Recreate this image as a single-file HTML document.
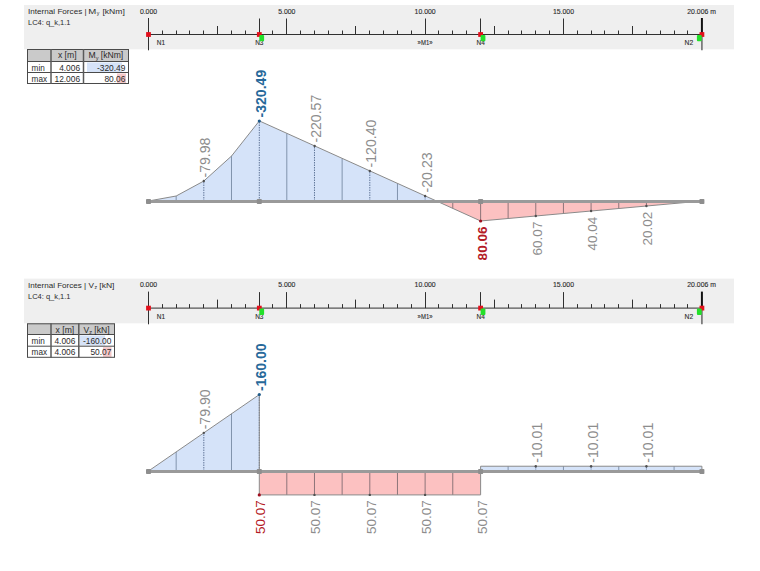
<!DOCTYPE html>
<html><head><meta charset="utf-8"><style>
html,body{margin:0;padding:0;background:#fff;width:760px;height:571px;overflow:hidden;}
svg{display:block;}
</style></head><body>
<svg width="760" height="571" viewBox="0 0 760 571" font-family='"Liberation Sans", sans-serif'>
<rect width="760" height="571" fill="#fff"/>
<rect x="24" y="5" width="710" height="44.3" fill="#efefef"/>
<text x="28.00" y="14.00" font-size="7.4" fill="#2b2b2b" textLength="58.599999999999994" lengthAdjust="spacingAndGlyphs">Internal Forces |</text>
<text x="88.20" y="14.00" font-size="7.4" fill="#2b2b2b" textLength="8.0" lengthAdjust="spacingAndGlyphs">M</text>
<text x="96.70" y="15.30" font-size="5.2" fill="#2b2b2b">y</text>
<text x="102.40" y="14.00" font-size="7.4" fill="#2b2b2b" textLength="22.39999999999999" lengthAdjust="spacingAndGlyphs">[kNm]</text>
<text x="28.00" y="25.20" font-size="7.4" fill="#2b2b2b" textLength="42.5" lengthAdjust="spacingAndGlyphs">LC4: q_k,1.1</text>
<line x1="148.5" y1="34.5" x2="701.91" y2="34.5" stroke="#303030" stroke-width="1"/>
<line x1="162.50" y1="30.5" x2="162.50" y2="34.5" stroke="#303030" stroke-width="1"/>
<line x1="176.50" y1="30.5" x2="176.50" y2="34.5" stroke="#303030" stroke-width="1"/>
<line x1="189.50" y1="30.5" x2="189.50" y2="34.5" stroke="#303030" stroke-width="1"/>
<line x1="203.50" y1="30.5" x2="203.50" y2="34.5" stroke="#303030" stroke-width="1"/>
<line x1="217.50" y1="26.0" x2="217.50" y2="34.5" stroke="#303030" stroke-width="1"/>
<line x1="231.50" y1="30.5" x2="231.50" y2="34.5" stroke="#303030" stroke-width="1"/>
<line x1="245.50" y1="30.5" x2="245.50" y2="34.5" stroke="#303030" stroke-width="1"/>
<line x1="259.50" y1="30.5" x2="259.50" y2="34.5" stroke="#303030" stroke-width="1"/>
<line x1="272.50" y1="30.5" x2="272.50" y2="34.5" stroke="#303030" stroke-width="1"/>
<line x1="286.50" y1="18.5" x2="286.50" y2="34.5" stroke="#303030" stroke-width="1"/>
<line x1="300.50" y1="30.5" x2="300.50" y2="34.5" stroke="#303030" stroke-width="1"/>
<line x1="314.50" y1="30.5" x2="314.50" y2="34.5" stroke="#303030" stroke-width="1"/>
<line x1="328.50" y1="30.5" x2="328.50" y2="34.5" stroke="#303030" stroke-width="1"/>
<line x1="342.50" y1="30.5" x2="342.50" y2="34.5" stroke="#303030" stroke-width="1"/>
<line x1="355.50" y1="26.0" x2="355.50" y2="34.5" stroke="#303030" stroke-width="1"/>
<line x1="369.50" y1="30.5" x2="369.50" y2="34.5" stroke="#303030" stroke-width="1"/>
<line x1="383.50" y1="30.5" x2="383.50" y2="34.5" stroke="#303030" stroke-width="1"/>
<line x1="397.50" y1="30.5" x2="397.50" y2="34.5" stroke="#303030" stroke-width="1"/>
<line x1="411.50" y1="30.5" x2="411.50" y2="34.5" stroke="#303030" stroke-width="1"/>
<line x1="425.50" y1="18.5" x2="425.50" y2="34.5" stroke="#303030" stroke-width="1"/>
<line x1="438.50" y1="30.5" x2="438.50" y2="34.5" stroke="#303030" stroke-width="1"/>
<line x1="452.50" y1="30.5" x2="452.50" y2="34.5" stroke="#303030" stroke-width="1"/>
<line x1="466.50" y1="30.5" x2="466.50" y2="34.5" stroke="#303030" stroke-width="1"/>
<line x1="480.50" y1="30.5" x2="480.50" y2="34.5" stroke="#303030" stroke-width="1"/>
<line x1="494.50" y1="26.0" x2="494.50" y2="34.5" stroke="#303030" stroke-width="1"/>
<line x1="508.50" y1="30.5" x2="508.50" y2="34.5" stroke="#303030" stroke-width="1"/>
<line x1="521.50" y1="30.5" x2="521.50" y2="34.5" stroke="#303030" stroke-width="1"/>
<line x1="535.50" y1="30.5" x2="535.50" y2="34.5" stroke="#303030" stroke-width="1"/>
<line x1="549.50" y1="30.5" x2="549.50" y2="34.5" stroke="#303030" stroke-width="1"/>
<line x1="563.50" y1="18.5" x2="563.50" y2="34.5" stroke="#303030" stroke-width="1"/>
<line x1="577.50" y1="30.5" x2="577.50" y2="34.5" stroke="#303030" stroke-width="1"/>
<line x1="591.50" y1="30.5" x2="591.50" y2="34.5" stroke="#303030" stroke-width="1"/>
<line x1="604.50" y1="30.5" x2="604.50" y2="34.5" stroke="#303030" stroke-width="1"/>
<line x1="618.50" y1="30.5" x2="618.50" y2="34.5" stroke="#303030" stroke-width="1"/>
<line x1="632.50" y1="26.0" x2="632.50" y2="34.5" stroke="#303030" stroke-width="1"/>
<line x1="646.50" y1="30.5" x2="646.50" y2="34.5" stroke="#303030" stroke-width="1"/>
<line x1="660.50" y1="30.5" x2="660.50" y2="34.5" stroke="#303030" stroke-width="1"/>
<line x1="674.50" y1="30.5" x2="674.50" y2="34.5" stroke="#303030" stroke-width="1"/>
<line x1="687.50" y1="30.5" x2="687.50" y2="34.5" stroke="#303030" stroke-width="1"/>
<line x1="259.50" y1="18.5" x2="259.50" y2="34.5" stroke="#303030" stroke-width="1"/>
<line x1="480.50" y1="18.5" x2="480.50" y2="34.5" stroke="#303030" stroke-width="1"/>
<line x1="148.5" y1="18.0" x2="148.5" y2="50.3" stroke="#303030" stroke-width="1"/>
<line x1="701.91" y1="18.0" x2="701.91" y2="34.5" stroke="#111" stroke-width="2"/>
<line x1="701.91" y1="34.5" x2="701.91" y2="50.3" stroke="#666" stroke-width="1.5"/>
<text x="148.50" y="13.60" font-size="6.9" fill="#2b2b2b" text-anchor="middle" stroke="#2b2b2b" stroke-width="0.12">0.000</text>
<text x="286.81" y="13.60" font-size="6.9" fill="#2b2b2b" text-anchor="middle" stroke="#2b2b2b" stroke-width="0.12">5.000</text>
<text x="425.12" y="13.60" font-size="6.9" fill="#2b2b2b" text-anchor="middle" stroke="#2b2b2b" stroke-width="0.12">10.000</text>
<text x="563.43" y="13.60" font-size="6.9" fill="#2b2b2b" text-anchor="middle" stroke="#2b2b2b" stroke-width="0.12">15.000</text>
<text x="687.31" y="13.60" font-size="6.9" fill="#2b2b2b" textLength="28.6" lengthAdjust="spacingAndGlyphs" stroke="#2b2b2b" stroke-width="0.12">20.006 m</text>
<text x="161.00" y="45.00" font-size="7.2" fill="#2b2b2b" text-anchor="middle" textLength="8.3" lengthAdjust="spacingAndGlyphs" stroke="#2b2b2b" stroke-width="0.12">N1</text>
<text x="259.31" y="45.00" font-size="7.2" fill="#2b2b2b" text-anchor="middle" textLength="8.3" lengthAdjust="spacingAndGlyphs" stroke="#2b2b2b" stroke-width="0.12">N3</text>
<text x="425.12" y="45.00" font-size="7.2" fill="#2b2b2b" text-anchor="middle" textLength="15" lengthAdjust="spacingAndGlyphs" stroke="#2b2b2b" stroke-width="0.12">»M1»</text>
<text x="480.61" y="45.00" font-size="7.2" fill="#2b2b2b" text-anchor="middle" textLength="8.3" lengthAdjust="spacingAndGlyphs" stroke="#2b2b2b" stroke-width="0.12">N4</text>
<text x="688.91" y="45.00" font-size="7.2" fill="#2b2b2b" text-anchor="middle" textLength="8.6" lengthAdjust="spacingAndGlyphs" stroke="#2b2b2b" stroke-width="0.12">N2</text>
<rect x="146.10" y="32.1" width="4.8" height="4.8" fill="#e3101c"/>
<rect x="256.91" y="32.1" width="4.8" height="4.8" fill="#e3101c"/>
<rect x="478.21" y="32.1" width="4.8" height="4.8" fill="#e3101c"/>
<rect x="699.51" y="32.1" width="4.8" height="4.8" fill="#e3101c"/>
<rect x="259.31" y="35.0" width="4.8" height="6.3" rx="1" fill="#23e02a"/>
<rect x="480.61" y="35.0" width="4.8" height="6.3" rx="1" fill="#23e02a"/>
<rect x="696.91" y="35.0" width="4.8" height="6.3" rx="1" fill="#23e02a"/>
<rect x="27" y="49" width="102" height="12.5" fill="#cacaca"/>
<rect x="27" y="61.5" width="102" height="22.5" fill="#fff"/>
<rect x="87" y="62.5" width="35" height="9.5" fill="#d6e3f8"/>
<rect x="117" y="73.5" width="9" height="10" fill="#f5c8c8"/>
<rect x="27.5" y="49.5" width="101" height="34" fill="none" stroke="#4a4a4a" stroke-width="1"/>
<line x1="27" y1="61.5" x2="129" y2="61.5" stroke="#4a4a4a" stroke-width="1"/>
<line x1="27" y1="72.5" x2="129" y2="72.5" stroke="#4a4a4a" stroke-width="1"/>
<line x1="51" y1="49" x2="51" y2="84" stroke="#5a5a5a" stroke-width="1.5"/>
<line x1="83.5" y1="49" x2="83.5" y2="84" stroke="#5a5a5a" stroke-width="1.5"/>
<text x="67.25" y="58.40" font-size="8.6" fill="#2b2b2b" text-anchor="middle">x [m]</text>
<text x="105.85" y="58.40" font-size="8.6" fill="#2b2b2b" text-anchor="middle">M<tspan font-size="5.5" dy="1.5">y</tspan><tspan dy="-1.5"> [kNm]</tspan></text>
<text x="31.60" y="70.50" font-size="8.2" fill="#2b2b2b">min</text>
<text x="80.10" y="70.50" font-size="8.4" fill="#2b2b2b" text-anchor="end">4.006</text>
<text x="125.40" y="70.50" font-size="8.4" fill="#2b2b2b" text-anchor="end">-320.49</text>
<text x="31.60" y="81.50" font-size="8.2" fill="#2b2b2b">max</text>
<text x="80.10" y="81.50" font-size="8.4" fill="#2b2b2b" text-anchor="end">12.006</text>
<text x="125.40" y="81.50" font-size="8.4" fill="#2b2b2b" text-anchor="end">80.06</text>
<polygon points="148.50,201.00 176.16,196.01 203.82,181.03 231.49,156.07 259.31,120.89 436.38,201.00" fill="#d5e3f9"/>
<polygon points="436.38,201.00 480.61,220.98 701.91,201.00" fill="#fcc1c1"/>
<line x1="176.16" y1="201.00" x2="176.16" y2="196.01" stroke="#8193ad" stroke-width="1"/>
<line x1="203.82" y1="201.00" x2="203.82" y2="181.03" stroke="#62779a" stroke-width="1" stroke-dasharray="1.5,1"/>
<line x1="231.49" y1="201.00" x2="231.49" y2="156.07" stroke="#8193ad" stroke-width="1"/>
<line x1="259.31" y1="201.00" x2="259.31" y2="120.89" stroke="#62779a" stroke-width="1" stroke-dasharray="1.5,1"/>
<line x1="286.81" y1="201.00" x2="286.81" y2="133.43" stroke="#8193ad" stroke-width="1"/>
<line x1="314.47" y1="201.00" x2="314.47" y2="145.93" stroke="#62779a" stroke-width="1" stroke-dasharray="1.5,1"/>
<line x1="342.13" y1="201.00" x2="342.13" y2="158.42" stroke="#8193ad" stroke-width="1"/>
<line x1="369.80" y1="201.00" x2="369.80" y2="170.92" stroke="#62779a" stroke-width="1" stroke-dasharray="1.5,1"/>
<line x1="397.46" y1="201.00" x2="397.46" y2="183.42" stroke="#8193ad" stroke-width="1"/>
<line x1="425.12" y1="201.00" x2="425.12" y2="195.91" stroke="#62779a" stroke-width="1" stroke-dasharray="1.5,1"/>
<line x1="452.78" y1="201.00" x2="452.78" y2="208.41" stroke="#8d7479" stroke-width="1"/>
<line x1="480.61" y1="201.00" x2="480.61" y2="220.98" stroke="#8d7479" stroke-width="1"/>
<line x1="508.11" y1="201.00" x2="508.11" y2="218.50" stroke="#8d7479" stroke-width="1"/>
<line x1="535.77" y1="201.00" x2="535.77" y2="216.00" stroke="#8d7479" stroke-width="1"/>
<line x1="563.43" y1="201.00" x2="563.43" y2="213.50" stroke="#8d7479" stroke-width="1"/>
<line x1="591.09" y1="201.00" x2="591.09" y2="211.01" stroke="#8d7479" stroke-width="1"/>
<line x1="618.75" y1="201.00" x2="618.75" y2="208.51" stroke="#8d7479" stroke-width="1"/>
<line x1="646.42" y1="201.00" x2="646.42" y2="206.01" stroke="#8d7479" stroke-width="1"/>
<line x1="674.08" y1="201.00" x2="674.08" y2="203.51" stroke="#8d7479" stroke-width="1"/>
<polyline points="148.50,201.00 176.16,196.01 203.82,181.03 231.49,156.07 259.31,120.89 480.61,220.98 701.91,201" fill="none" stroke="#8a8a8a" stroke-width="1"/>
<line x1="148.5" y1="201.5" x2="701.91" y2="201.5" stroke="#9a9a9a" stroke-width="3"/>
<rect x="146.00" y="199" width="5" height="5" rx="0.8" fill="#8e8e8e"/>
<rect x="256.81" y="199" width="5" height="5" rx="0.8" fill="#8e8e8e"/>
<rect x="478.11" y="199" width="5" height="5" rx="0.8" fill="#8e8e8e"/>
<rect x="699.41" y="199" width="5" height="5" rx="0.8" fill="#8e8e8e"/>
<text transform="translate(210.42,177.53) rotate(-90)" font-size="14.1" fill="#8d8d8d">-79.98</text>
<text transform="translate(265.91,117.51) rotate(-90)" font-size="14.1" fill="#27699a" font-weight="bold">-320.49</text>
<text transform="translate(321.24,142.50) rotate(-90)" font-size="14.1" fill="#8d8d8d">-220.57</text>
<text transform="translate(376.40,167.42) rotate(-90)" font-size="14.1" fill="#8d8d8d">-120.40</text>
<text transform="translate(431.72,192.41) rotate(-90)" font-size="14.1" fill="#8d8d8d">-20.23</text>
<text transform="translate(486.61,226.58) rotate(-90)" font-size="13.5" fill="#b41a26" text-anchor="end" font-weight="bold">80.06</text>
<text transform="translate(541.77,221.60) rotate(-90)" font-size="13.5" fill="#8d8d8d" text-anchor="end">60.07</text>
<text transform="translate(597.09,216.61) rotate(-90)" font-size="13.5" fill="#8d8d8d" text-anchor="end">40.04</text>
<text transform="translate(652.42,211.61) rotate(-90)" font-size="13.5" fill="#8d8d8d" text-anchor="end">20.02</text>
<circle cx="203.82" cy="181.03" r="1.2" fill="#505050"/>
<circle cx="259.31" cy="121.01" r="1.6" fill="#1f5a88"/>
<circle cx="314.64" cy="146.00" r="1.2" fill="#505050"/>
<circle cx="369.80" cy="170.92" r="1.2" fill="#505050"/>
<circle cx="425.12" cy="195.91" r="1.2" fill="#505050"/>
<circle cx="480.61" cy="220.98" r="1.6" fill="#a01020"/>
<circle cx="535.77" cy="216.00" r="1.2" fill="#505050"/>
<circle cx="591.09" cy="211.01" r="1.2" fill="#505050"/>
<circle cx="646.42" cy="206.01" r="1.2" fill="#505050"/>
<rect x="24" y="278.6" width="710" height="44.7" fill="#efefef"/>
<text x="28.00" y="287.60" font-size="7.4" fill="#2b2b2b" textLength="58.2" lengthAdjust="spacingAndGlyphs">Internal Forces |</text>
<text x="88.40" y="287.60" font-size="7.4" fill="#2b2b2b" textLength="5.5" lengthAdjust="spacingAndGlyphs">V</text>
<text x="94.40" y="288.90" font-size="5.2" fill="#2b2b2b">z</text>
<text x="99.30" y="287.60" font-size="7.4" fill="#2b2b2b" textLength="15.100000000000009" lengthAdjust="spacingAndGlyphs">[kN]</text>
<text x="28.00" y="298.80" font-size="7.4" fill="#2b2b2b" textLength="42.5" lengthAdjust="spacingAndGlyphs">LC4: q_k,1.1</text>
<line x1="148.5" y1="308.1" x2="701.91" y2="308.1" stroke="#303030" stroke-width="1"/>
<line x1="162.50" y1="304.1" x2="162.50" y2="308.1" stroke="#303030" stroke-width="1"/>
<line x1="176.50" y1="304.1" x2="176.50" y2="308.1" stroke="#303030" stroke-width="1"/>
<line x1="189.50" y1="304.1" x2="189.50" y2="308.1" stroke="#303030" stroke-width="1"/>
<line x1="203.50" y1="304.1" x2="203.50" y2="308.1" stroke="#303030" stroke-width="1"/>
<line x1="217.50" y1="299.6" x2="217.50" y2="308.1" stroke="#303030" stroke-width="1"/>
<line x1="231.50" y1="304.1" x2="231.50" y2="308.1" stroke="#303030" stroke-width="1"/>
<line x1="245.50" y1="304.1" x2="245.50" y2="308.1" stroke="#303030" stroke-width="1"/>
<line x1="259.50" y1="304.1" x2="259.50" y2="308.1" stroke="#303030" stroke-width="1"/>
<line x1="272.50" y1="304.1" x2="272.50" y2="308.1" stroke="#303030" stroke-width="1"/>
<line x1="286.50" y1="292.1" x2="286.50" y2="308.1" stroke="#303030" stroke-width="1"/>
<line x1="300.50" y1="304.1" x2="300.50" y2="308.1" stroke="#303030" stroke-width="1"/>
<line x1="314.50" y1="304.1" x2="314.50" y2="308.1" stroke="#303030" stroke-width="1"/>
<line x1="328.50" y1="304.1" x2="328.50" y2="308.1" stroke="#303030" stroke-width="1"/>
<line x1="342.50" y1="304.1" x2="342.50" y2="308.1" stroke="#303030" stroke-width="1"/>
<line x1="355.50" y1="299.6" x2="355.50" y2="308.1" stroke="#303030" stroke-width="1"/>
<line x1="369.50" y1="304.1" x2="369.50" y2="308.1" stroke="#303030" stroke-width="1"/>
<line x1="383.50" y1="304.1" x2="383.50" y2="308.1" stroke="#303030" stroke-width="1"/>
<line x1="397.50" y1="304.1" x2="397.50" y2="308.1" stroke="#303030" stroke-width="1"/>
<line x1="411.50" y1="304.1" x2="411.50" y2="308.1" stroke="#303030" stroke-width="1"/>
<line x1="425.50" y1="292.1" x2="425.50" y2="308.1" stroke="#303030" stroke-width="1"/>
<line x1="438.50" y1="304.1" x2="438.50" y2="308.1" stroke="#303030" stroke-width="1"/>
<line x1="452.50" y1="304.1" x2="452.50" y2="308.1" stroke="#303030" stroke-width="1"/>
<line x1="466.50" y1="304.1" x2="466.50" y2="308.1" stroke="#303030" stroke-width="1"/>
<line x1="480.50" y1="304.1" x2="480.50" y2="308.1" stroke="#303030" stroke-width="1"/>
<line x1="494.50" y1="299.6" x2="494.50" y2="308.1" stroke="#303030" stroke-width="1"/>
<line x1="508.50" y1="304.1" x2="508.50" y2="308.1" stroke="#303030" stroke-width="1"/>
<line x1="521.50" y1="304.1" x2="521.50" y2="308.1" stroke="#303030" stroke-width="1"/>
<line x1="535.50" y1="304.1" x2="535.50" y2="308.1" stroke="#303030" stroke-width="1"/>
<line x1="549.50" y1="304.1" x2="549.50" y2="308.1" stroke="#303030" stroke-width="1"/>
<line x1="563.50" y1="292.1" x2="563.50" y2="308.1" stroke="#303030" stroke-width="1"/>
<line x1="577.50" y1="304.1" x2="577.50" y2="308.1" stroke="#303030" stroke-width="1"/>
<line x1="591.50" y1="304.1" x2="591.50" y2="308.1" stroke="#303030" stroke-width="1"/>
<line x1="604.50" y1="304.1" x2="604.50" y2="308.1" stroke="#303030" stroke-width="1"/>
<line x1="618.50" y1="304.1" x2="618.50" y2="308.1" stroke="#303030" stroke-width="1"/>
<line x1="632.50" y1="299.6" x2="632.50" y2="308.1" stroke="#303030" stroke-width="1"/>
<line x1="646.50" y1="304.1" x2="646.50" y2="308.1" stroke="#303030" stroke-width="1"/>
<line x1="660.50" y1="304.1" x2="660.50" y2="308.1" stroke="#303030" stroke-width="1"/>
<line x1="674.50" y1="304.1" x2="674.50" y2="308.1" stroke="#303030" stroke-width="1"/>
<line x1="687.50" y1="304.1" x2="687.50" y2="308.1" stroke="#303030" stroke-width="1"/>
<line x1="259.50" y1="292.1" x2="259.50" y2="308.1" stroke="#303030" stroke-width="1"/>
<line x1="480.50" y1="292.1" x2="480.50" y2="308.1" stroke="#303030" stroke-width="1"/>
<line x1="148.5" y1="291.6" x2="148.5" y2="324.3" stroke="#303030" stroke-width="1"/>
<line x1="701.91" y1="291.6" x2="701.91" y2="308.1" stroke="#111" stroke-width="2"/>
<line x1="701.91" y1="308.1" x2="701.91" y2="324.3" stroke="#666" stroke-width="1.5"/>
<text x="148.50" y="287.20" font-size="6.9" fill="#2b2b2b" text-anchor="middle" stroke="#2b2b2b" stroke-width="0.12">0.000</text>
<text x="286.81" y="287.20" font-size="6.9" fill="#2b2b2b" text-anchor="middle" stroke="#2b2b2b" stroke-width="0.12">5.000</text>
<text x="425.12" y="287.20" font-size="6.9" fill="#2b2b2b" text-anchor="middle" stroke="#2b2b2b" stroke-width="0.12">10.000</text>
<text x="563.43" y="287.20" font-size="6.9" fill="#2b2b2b" text-anchor="middle" stroke="#2b2b2b" stroke-width="0.12">15.000</text>
<text x="687.31" y="287.20" font-size="6.9" fill="#2b2b2b" textLength="28.6" lengthAdjust="spacingAndGlyphs" stroke="#2b2b2b" stroke-width="0.12">20.006 m</text>
<text x="161.00" y="318.60" font-size="7.2" fill="#2b2b2b" text-anchor="middle" textLength="8.3" lengthAdjust="spacingAndGlyphs" stroke="#2b2b2b" stroke-width="0.12">N1</text>
<text x="259.31" y="318.60" font-size="7.2" fill="#2b2b2b" text-anchor="middle" textLength="8.3" lengthAdjust="spacingAndGlyphs" stroke="#2b2b2b" stroke-width="0.12">N3</text>
<text x="425.12" y="318.60" font-size="7.2" fill="#2b2b2b" text-anchor="middle" textLength="15" lengthAdjust="spacingAndGlyphs" stroke="#2b2b2b" stroke-width="0.12">»M1»</text>
<text x="480.61" y="318.60" font-size="7.2" fill="#2b2b2b" text-anchor="middle" textLength="8.3" lengthAdjust="spacingAndGlyphs" stroke="#2b2b2b" stroke-width="0.12">N4</text>
<text x="688.91" y="318.60" font-size="7.2" fill="#2b2b2b" text-anchor="middle" textLength="8.6" lengthAdjust="spacingAndGlyphs" stroke="#2b2b2b" stroke-width="0.12">N2</text>
<rect x="146.10" y="305.70000000000005" width="4.8" height="4.8" fill="#e3101c"/>
<rect x="256.91" y="305.70000000000005" width="4.8" height="4.8" fill="#e3101c"/>
<rect x="478.21" y="305.70000000000005" width="4.8" height="4.8" fill="#e3101c"/>
<rect x="699.51" y="305.70000000000005" width="4.8" height="4.8" fill="#e3101c"/>
<rect x="259.31" y="308.6" width="4.8" height="6.3" rx="1" fill="#23e02a"/>
<rect x="480.61" y="308.6" width="4.8" height="6.3" rx="1" fill="#23e02a"/>
<rect x="696.91" y="308.6" width="4.8" height="6.3" rx="1" fill="#23e02a"/>
<rect x="27" y="323.3" width="88" height="11.199999999999989" fill="#cacaca"/>
<rect x="27" y="334.5" width="88" height="23.30000000000001" fill="#fff"/>
<rect x="80" y="335.5" width="25" height="10" fill="#d6e3f8"/>
<rect x="103" y="347.2" width="8.5" height="10" fill="#f5c8c8"/>
<rect x="27.5" y="323.8" width="87" height="33.5" fill="none" stroke="#4a4a4a" stroke-width="1"/>
<line x1="27" y1="334.5" x2="115" y2="334.5" stroke="#4a4a4a" stroke-width="1"/>
<line x1="27" y1="346.2" x2="115" y2="346.2" stroke="#4a4a4a" stroke-width="1"/>
<line x1="51" y1="323.3" x2="51" y2="357.8" stroke="#5a5a5a" stroke-width="1.5"/>
<line x1="78.8" y1="323.3" x2="78.8" y2="357.8" stroke="#5a5a5a" stroke-width="1.5"/>
<text x="64.90" y="332.70" font-size="8.6" fill="#2b2b2b" text-anchor="middle">x [m]</text>
<text x="96.50" y="332.70" font-size="8.6" fill="#2b2b2b" text-anchor="middle">V<tspan font-size="5.5" dy="1.5">z</tspan><tspan dy="-1.5"> [kN]</tspan></text>
<text x="31.60" y="343.50" font-size="8.2" fill="#2b2b2b">min</text>
<text x="75.40" y="343.50" font-size="8.4" fill="#2b2b2b" text-anchor="end">4.006</text>
<text x="111.40" y="343.50" font-size="8.4" fill="#2b2b2b" text-anchor="end">-160.00</text>
<text x="31.60" y="355.20" font-size="8.2" fill="#2b2b2b">max</text>
<text x="75.40" y="355.20" font-size="8.4" fill="#2b2b2b" text-anchor="end">4.006</text>
<text x="111.40" y="355.20" font-size="8.4" fill="#2b2b2b" text-anchor="end">50.07</text>
<polygon points="148.5,471 259.31,394.60 259.31,471" fill="#d5e3f9"/>
<rect x="259.31" y="471" width="221.30" height="23.91" fill="#fcc1c1"/>
<rect x="480.61" y="466.22" width="221.30" height="4.78" fill="#d5e3f9"/>
<line x1="176.16" y1="471.00" x2="176.16" y2="451.90" stroke="#8193ad" stroke-width="1"/>
<line x1="203.82" y1="471.00" x2="203.82" y2="432.80" stroke="#62779a" stroke-width="1" stroke-dasharray="1.5,1"/>
<line x1="231.49" y1="471.00" x2="231.49" y2="413.70" stroke="#8193ad" stroke-width="1"/>
<line x1="259.31" y1="471.00" x2="259.31" y2="394.60" stroke="#62779a" stroke-width="1" stroke-dasharray="1.5,1"/>
<line x1="286.81" y1="471.00" x2="286.81" y2="494.91" stroke="#8d7479" stroke-width="1"/>
<line x1="314.47" y1="471.00" x2="314.47" y2="494.91" stroke="#8d7479" stroke-width="1"/>
<line x1="342.13" y1="471.00" x2="342.13" y2="494.91" stroke="#8d7479" stroke-width="1"/>
<line x1="369.80" y1="471.00" x2="369.80" y2="494.91" stroke="#8d7479" stroke-width="1"/>
<line x1="397.46" y1="471.00" x2="397.46" y2="494.91" stroke="#8d7479" stroke-width="1"/>
<line x1="425.12" y1="471.00" x2="425.12" y2="494.91" stroke="#8d7479" stroke-width="1"/>
<line x1="452.78" y1="471.00" x2="452.78" y2="494.91" stroke="#8d7479" stroke-width="1"/>
<line x1="508.11" y1="471.00" x2="508.11" y2="466.22" stroke="#8193ad" stroke-width="1"/>
<line x1="535.77" y1="471.00" x2="535.77" y2="466.22" stroke="#62779a" stroke-width="1" stroke-dasharray="1.5,1"/>
<line x1="563.43" y1="471.00" x2="563.43" y2="466.22" stroke="#8193ad" stroke-width="1"/>
<line x1="591.09" y1="471.00" x2="591.09" y2="466.22" stroke="#62779a" stroke-width="1" stroke-dasharray="1.5,1"/>
<line x1="618.75" y1="471.00" x2="618.75" y2="466.22" stroke="#8193ad" stroke-width="1"/>
<line x1="646.42" y1="471.00" x2="646.42" y2="466.22" stroke="#62779a" stroke-width="1" stroke-dasharray="1.5,1"/>
<line x1="674.08" y1="471.00" x2="674.08" y2="466.22" stroke="#8193ad" stroke-width="1"/>
<polyline points="148.5,471 259.31,394.60 259.31,494.91 480.61,494.91 480.61,466.22 701.91,466.22 701.91,471" fill="none" stroke="#8a8a8a" stroke-width="1"/>
<line x1="148.5" y1="471.5" x2="701.91" y2="471.5" stroke="#9a9a9a" stroke-width="3"/>
<rect x="146.00" y="469" width="5" height="5" rx="0.8" fill="#8e8e8e"/>
<rect x="256.81" y="469" width="5" height="5" rx="0.8" fill="#8e8e8e"/>
<rect x="478.11" y="469" width="5" height="5" rx="0.8" fill="#8e8e8e"/>
<rect x="699.41" y="469" width="5" height="5" rx="0.8" fill="#8e8e8e"/>
<text transform="translate(210.42,429.35) rotate(-90)" font-size="14.1" fill="#8d8d8d">-79.90</text>
<text transform="translate(265.91,391.10) rotate(-90)" font-size="14.1" fill="#27699a" font-weight="bold">-160.00</text>
<text transform="translate(265.31,500.31) rotate(-90)" font-size="13.5" fill="#b41a26" text-anchor="end">50.07</text>
<text transform="translate(320.47,500.31) rotate(-90)" font-size="13.5" fill="#8d8d8d" text-anchor="end">50.07</text>
<text transform="translate(375.80,500.31) rotate(-90)" font-size="13.5" fill="#8d8d8d" text-anchor="end">50.07</text>
<text transform="translate(431.12,500.31) rotate(-90)" font-size="13.5" fill="#8d8d8d" text-anchor="end">50.07</text>
<text transform="translate(486.61,500.31) rotate(-90)" font-size="13.5" fill="#8d8d8d" text-anchor="end">50.07</text>
<text transform="translate(542.37,462.72) rotate(-90)" font-size="14.1" fill="#8d8d8d">-10.01</text>
<text transform="translate(597.69,462.72) rotate(-90)" font-size="14.1" fill="#8d8d8d">-10.01</text>
<text transform="translate(653.02,462.72) rotate(-90)" font-size="14.1" fill="#8d8d8d">-10.01</text>
<circle cx="203.82" cy="432.85" r="1.2" fill="#505050"/>
<circle cx="259.31" cy="394.60" r="1.6" fill="#1f5a88"/>
<circle cx="259.31" cy="494.91" r="1.6" fill="#a01020"/>
<circle cx="314.47" cy="494.91" r="1.2" fill="#505050"/>
<circle cx="369.80" cy="494.91" r="1.2" fill="#505050"/>
<circle cx="425.12" cy="494.91" r="1.2" fill="#505050"/>
<circle cx="535.77" cy="466.22" r="1.2" fill="#505050"/>
<circle cx="591.09" cy="466.22" r="1.2" fill="#505050"/>
<circle cx="646.42" cy="466.22" r="1.2" fill="#505050"/>
</svg>
</body></html>
